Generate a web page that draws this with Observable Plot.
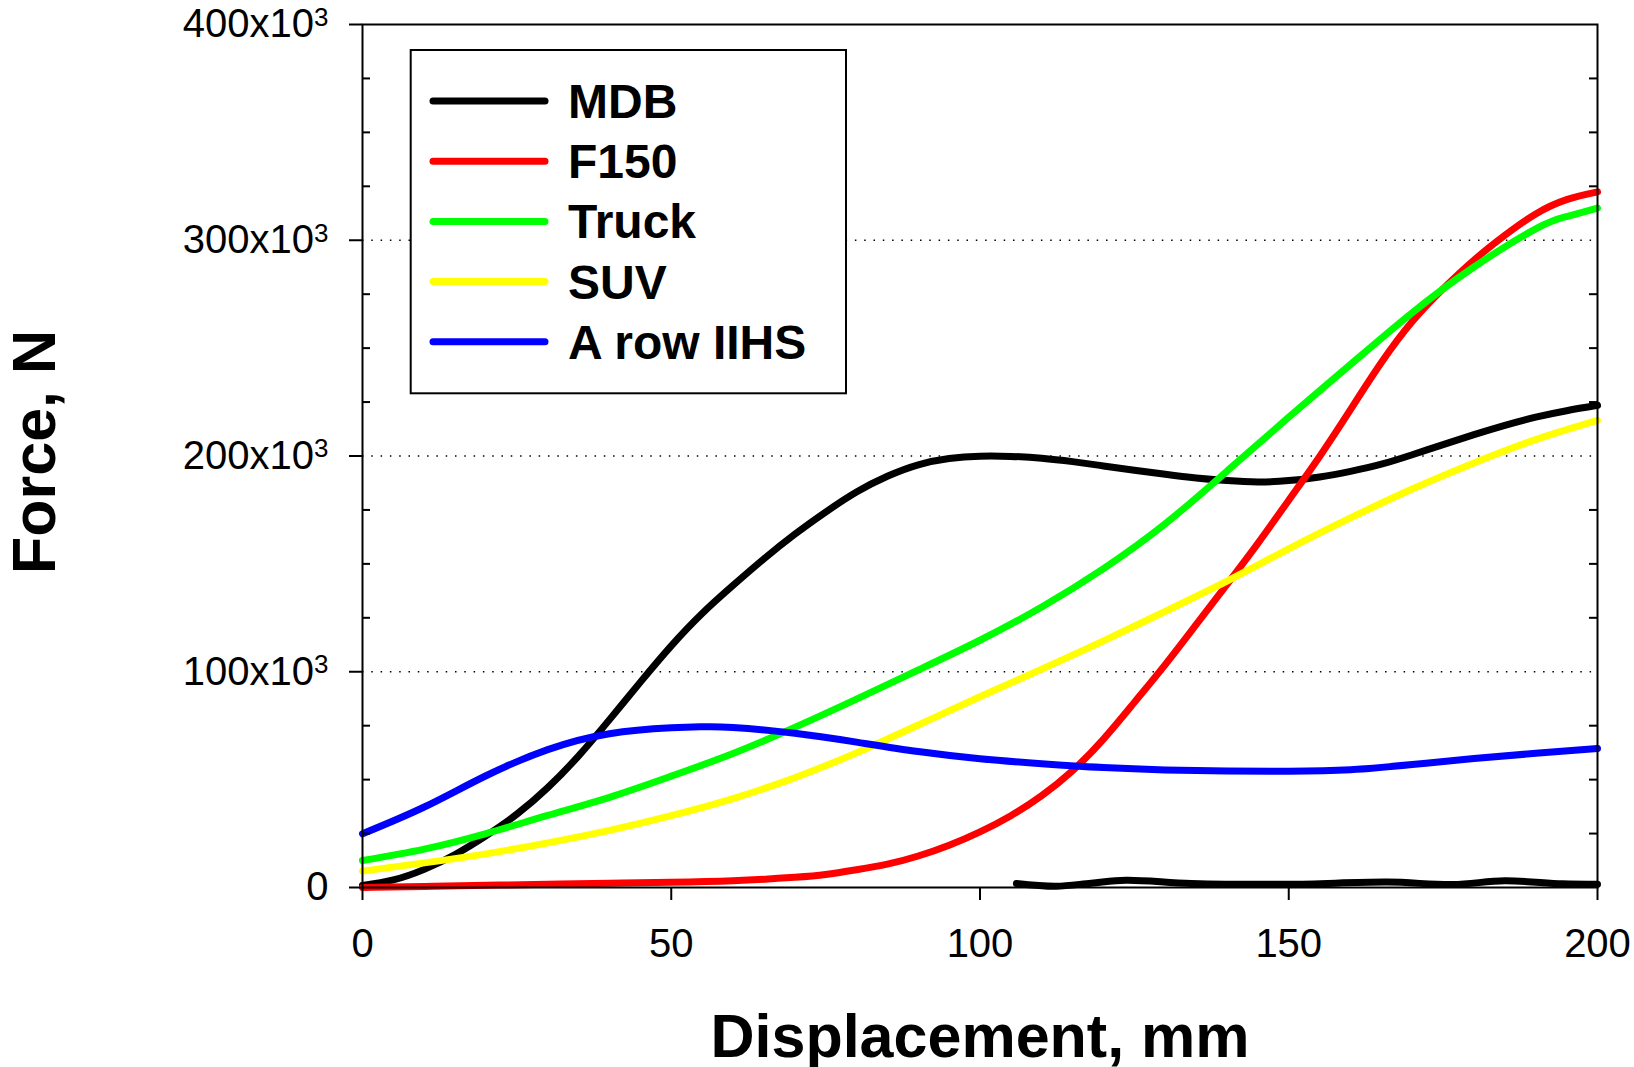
<!DOCTYPE html>
<html>
<head>
<meta charset="utf-8">
<script src="https://cdn.jsdelivr.net/npm/d3@7"></script>
<script src="https://cdn.jsdelivr.net/npm/@observablehq/plot@0.6"></script>
<style>
html, body { margin: 0; padding: 0; background: #ffffff; }
#chart { position: relative; width: 1634px; height: 1067px; }
#legend { position: absolute; left: 409px; top: 49px; }
</style>
</head>
<body>
<div id="chart"></div>
<script>
// Displacement in mm, force in units of 10^3 N
const seriesNames  = ["MDB", "F150", "Truck", "SUV", "A row IIHS"];
const seriesColors = ["#000000", "#ff0000", "#00ff00", "#ffff00", "#0000ff"];

const mdbX = [0, 5, 10, 15, 20, 25, 30, 35, 40, 45, 50, 55, 60, 65, 70, 75, 80, 85, 90, 95, 100, 105, 110, 115, 120, 125, 130, 135, 140, 145, 150, 155, 160, 165, 170, 175, 180, 185, 190, 195, 200];
const mdbY = [0.9, 3.5, 8.4, 15.3, 24.0, 34.0, 46.3, 61.0, 77.8, 95.2, 112.0, 127.0, 140.0, 152.3, 163.7, 174.0, 183.3, 190.6, 195.9, 198.8, 199.9, 199.8, 199.0, 197.4, 195.4, 193.4, 191.5, 189.8, 188.6, 188.0, 188.6, 190.3, 192.9, 196.2, 200.6, 205.3, 209.9, 214.2, 218.0, 221.0, 223.5];

const mdbTailX = [105.9, 112.3, 118.0, 123.6, 134.2, 150.0, 166.0, 176.6, 185.0, 194.3, 200];
const mdbTailY = [1.9, 0.6, 2.0, 3.4, 1.9, 1.5, 2.5, 1.4, 3.1, 1.7, 1.5];

const f150X = [0, 10, 20, 30, 40, 50, 60, 70, 75, 80, 85, 90, 95, 100, 105, 110, 115, 120, 125, 130, 135, 140, 145, 150, 155, 160, 165, 170, 175, 180, 185, 190, 195, 200];
const f150Y = [0, 0.5, 1.0, 1.5, 2.0, 2.4, 3.1, 4.7, 6.0, 8.2, 10.8, 14.6, 19.6, 25.8, 33.3, 42.6, 54.2, 68.8, 85.8, 103.3, 121.8, 140.5, 159.5, 179.5, 199.8, 221.5, 243.3, 262.3, 277.5, 290.8, 302.3, 312.2, 318.8, 322.4];

const truckX = [0, 10, 20, 30, 40, 50, 60, 70, 80, 90, 100, 110, 120, 130, 140, 150, 160, 170, 180, 190, 195, 200];
const truckY = [12.5, 17.8, 25.0, 33.4, 41.8, 51.6, 62.1, 74.2, 87.3, 100.8, 114.6, 130.0, 147.8, 168.6, 193.0, 218.0, 242.4, 266.4, 287.6, 305.3, 311.0, 314.9];

const suvX = [0, 10, 20, 30, 40, 50, 60, 70, 80, 90, 100, 110, 120, 130, 140, 150, 160, 170, 180, 190, 200];
const suvY = [7.6, 11.4, 15.6, 20.7, 26.5, 33.3, 41.2, 50.9, 62.4, 75.3, 88.4, 101.2, 114.3, 128.0, 142.0, 157.0, 171.3, 184.7, 196.8, 207.6, 216.5];

const iihsX = [0, 10, 20, 30, 40, 50, 55, 60, 70, 80, 90, 100, 110, 120, 130, 140, 150, 160, 170, 180, 190, 200];
const iihsY = [24.9, 37.3, 51.8, 63.9, 71.3, 74.0, 74.5, 74.2, 71.5, 67.4, 63.0, 59.7, 57.4, 55.6, 54.5, 54.0, 53.9, 54.6, 57.0, 59.8, 62.2, 64.4];

const xTicks = [0, 50, 100, 150, 200];
const yTicks = [0, 100, 200, 300, 400];
const yMinorTicks = [25, 50, 75, 125, 150, 175, 225, 250, 275, 325, 350, 375];
const gridY = [100, 200, 300];

// build a long table
const seriesXs = [mdbX, f150X, truckX, suvX, iihsX];
const seriesYs = [mdbY, f150Y, truckY, suvY, iihsY];
const rows = [];
seriesNames.forEach((name, i) => {
  seriesXs[i].forEach((x, j) => rows.push({series: name, x, y: seriesYs[i][j]}));
});
const tailRows = mdbTailX.map((x, j) => ({series: "MDB", x, y: mdbTailY[j]}));

const W = 1634, H = 1067;
const mL = 362, mR = 37, mT = 24, mB = 180;
const plotW = W - mL - mR;

const lineOpts = {x: "x", y: "y", strokeWidth: 7, curve: "natural", strokeLinecap: "round", strokeLinejoin: "round"};

const marks = [
  Plot.ruleY(gridY, {stroke: "#000", strokeWidth: 1.3, strokeDasharray: "1.5,7.8"}),
  Plot.line(tailRows, {...lineOpts, curve: "catmull-rom", stroke: seriesColors[0]}),
  ...seriesNames.map((name, i) =>
    Plot.line(rows.filter(r => r.series === name), {...lineOpts, stroke: seriesColors[i]})
  ),
  Plot.frame({stroke: "#000", strokeWidth: 2}),
  Plot.tickY(yMinorTicks, {stroke: "#000", strokeWidth: 2, insetRight: plotW - 8}),
  Plot.tickY(yMinorTicks, {stroke: "#000", strokeWidth: 2, insetLeft: plotW - 8}),
  Plot.axisY(yTicks, {anchor: "left", tickSize: 13, tickPadding: 21, strokeWidth: 2, fontSize: 40, label: null,
    tickFormat: d => d === 0 ? "0" : `${d}x10³`}),
  Plot.axisX(xTicks, {anchor: "bottom", tickSize: 13, tickPadding: 28, strokeWidth: 2, fontSize: 40, label: null,
    tickFormat: d => String(d)}),
  Plot.text(["Displacement, mm"], {text: d => d, frameAnchor: "bottom", lineAnchor: "bottom", dy: 169,
    fontSize: 61, fontWeight: "bold", fill: "#000"}),
  Plot.text(["Force, N"], {text: d => d, frameAnchor: "left", textAnchor: "middle", lineAnchor: "bottom", rotate: -90, dx: -308, dy: -4,
    fontSize: 61, fontWeight: "bold", fill: "#000"})
];

const chart = Plot.plot({
  width: W,
  height: H,
  marginLeft: mL,
  marginRight: mR,
  marginTop: mT,
  marginBottom: mB,
  x: {domain: [0, 200]},
  y: {domain: [0, 400]},
  style: {fontFamily: "'Liberation Sans', Arial, sans-serif", background: "#ffffff", color: "#000000", overflow: "visible"},
  marks
});

// render the exponent of the y tick labels as a proper superscript
d3.select(chart).selectAll("text").each(function () {
  const t = this.textContent;
  const m = /^(.*x10)³$/.exec(t);
  if (m) {
    const sel = d3.select(this);
    sel.text(null);
    sel.append("tspan").text(m[1]);
    sel.append("tspan").attr("font-size", 26).attr("dy", -11.5).text("3");
  }
});

const container = document.getElementById("chart");
container.appendChild(chart);

// Legend (inside the plot area, top-left)
const lg = d3.select(container).append("svg")
  .attr("id", "legend")
  .attr("width", 440)
  .attr("height", 348)
  .style("font-family", "'Liberation Sans', Arial, sans-serif");
lg.append("rect")
  .attr("x", 1.7).attr("y", 1).attr("width", 435.3).attr("height", 343.3)
  .attr("fill", "#ffffff").attr("stroke", "#000").attr("stroke-width", 2);
seriesNames.forEach((name, i) => {
  const cy = 52 + i * 60.2;
  lg.append("line")
    .attr("x1", 24).attr("x2", 136).attr("y1", cy).attr("y2", cy)
    .attr("stroke", seriesColors[i]).attr("stroke-width", 7).attr("stroke-linecap", "round");
  lg.append("text")
    .attr("x", 159).attr("y", cy + 17)
    .attr("font-size", 48).attr("font-weight", "bold").attr("fill", "#000")
    .text(name);
});
</script>
</body>
</html>
